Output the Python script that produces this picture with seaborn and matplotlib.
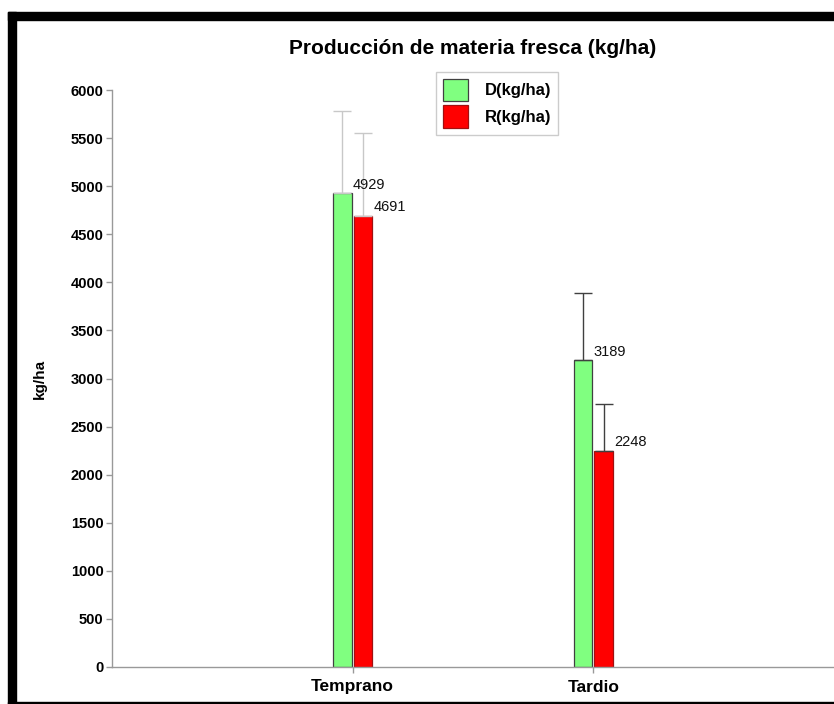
import matplotlib
matplotlib.use("Agg")
import matplotlib.pyplot as plt
import matplotlib.patches as mpatches
import seaborn as sns
import pandas as pd

# Data
categories = ["Temprano", "Tardio"]
series = ["D(kg/ha)", "R(kg/ha)"]
d_values = [4929, 3189]
r_values = [4691, 2248]
d_errors = [850, 700]
r_errors = [860, 490]
tick_values = [0, 500, 1000, 1500, 2000, 2500, 3000, 3500, 4000, 4500, 5000, 5500, 6000]

colors = {"D(kg/ha)": "#80ff80", "R(kg/ha)": "#ff0000"}
edge_colors = {"D(kg/ha)": "#404040", "R(kg/ha)": "#a01010"}
err_colors = ["#c8c8c8", "#404040"]

df = pd.DataFrame({
    "Época": categories * 2,
    "Serie": [series[0]] * 2 + [series[1]] * 2,
    "Valor": d_values + r_values,
})
errs = {series[0]: d_errors, series[1]: r_errors}

sns.set_theme(style="white")
plt.rcParams["font.family"] = ["Liberation Sans", "DejaVu Sans"]
plt.rcParams["text.color"] = "black"
plt.rcParams["axes.labelcolor"] = "black"
plt.rcParams["xtick.color"] = "black"
plt.rcParams["ytick.color"] = "black"

fig = plt.figure(figsize=(8.34, 7.04), dpi=100)
ax = fig.add_axes([112 / 834, 1 - 667 / 704, 1 - 112 / 834, 577 / 704])

sns.barplot(data=df, x="Época", y="Valor", hue="Serie", order=categories,
            hue_order=series, palette=colors, width=0.17, gap=0.1,
            errorbar=None, ax=ax, legend=False, saturation=1)

# Bars come out grouped by hue, then category
patches = list(ax.patches)
idx = 0
for s in series:
    vals = df[df["Serie"] == s].set_index("Época").loc[categories, "Valor"].tolist()
    for ci, v in enumerate(vals):
        p = patches[idx]
        idx += 1
        p.set_edgecolor(edge_colors[s])
        p.set_linewidth(0.9)
        xc = p.get_x() + p.get_width() / 2
        ax.errorbar(xc, v, yerr=[[0], [errs[s][ci]]], fmt="none",
                    ecolor=err_colors[ci], elinewidth=1.0, capsize=6.5,
                    capthick=1.0, zorder=1)
        ax.text(p.get_x() + p.get_width() + 0.006, v + 15, f"{v}",
                ha="left", va="bottom", fontsize=10.5, color="#111111")

ax.set_xlim(-1, 2)
ax.set_ylim(0, 6000)
ax.set_yticks(tick_values)
ax.set_yticklabels([str(t) for t in tick_values], fontsize=10.5,
                   fontweight="bold")
ax.set_xticks([0, 1])
ax.set_xticklabels(categories, fontsize=12.5, fontweight="bold")
ax.set_xlabel("")
ax.set_ylabel("kg/ha", fontsize=11, fontweight="bold")
ax.yaxis.set_label_coords(-0.09, 0.5)

for side in ["top", "right"]:
    ax.spines[side].set_visible(False)
for side in ["left", "bottom"]:
    ax.spines[side].set_color("#999999")
    ax.spines[side].set_linewidth(1.0)
ax.tick_params(axis="y", which="both", left=True, length=4, width=1,
               color="#999999", pad=2)
ax.tick_params(axis="x", which="both", bottom=True, length=4, width=1,
               color="#999999", pad=5)

ax.set_title("Producción de materia fresca (kg/ha)", fontsize=15,
             fontweight="bold", pad=26)

handles = [mpatches.Patch(facecolor=colors[s], edgecolor=edge_colors[s],
                          linewidth=0.9, label=s) for s in series]
leg = ax.legend(handles=handles, loc="upper left",
                bbox_to_anchor=(0.449, 1.031), frameon=True, fancybox=False,
                framealpha=1, edgecolor="#cccccc", handlelength=1.5,
                handleheight=1.7, handletextpad=1.0, borderpad=0.4,
                borderaxespad=0, labelspacing=0.25,
                prop={"weight": "bold", "size": 12})
leg.get_frame().set_linewidth(1.0)

# Black frame around the figure (top, left, bottom)
fig.patches.append(mpatches.Rectangle((8 / 834, 1 - 20 / 704), 1, 8 / 704,
                                      transform=fig.transFigure, color="black"))
fig.patches.append(mpatches.Rectangle((8 / 834, 0), 8 / 834, 1 - 12 / 704,
                                      transform=fig.transFigure, color="black"))
fig.patches.append(mpatches.Rectangle((8 / 834, 0), 1, 2.5 / 704,
                                      transform=fig.transFigure, color="black"))

fig.savefig("out.png", dpi=100)
